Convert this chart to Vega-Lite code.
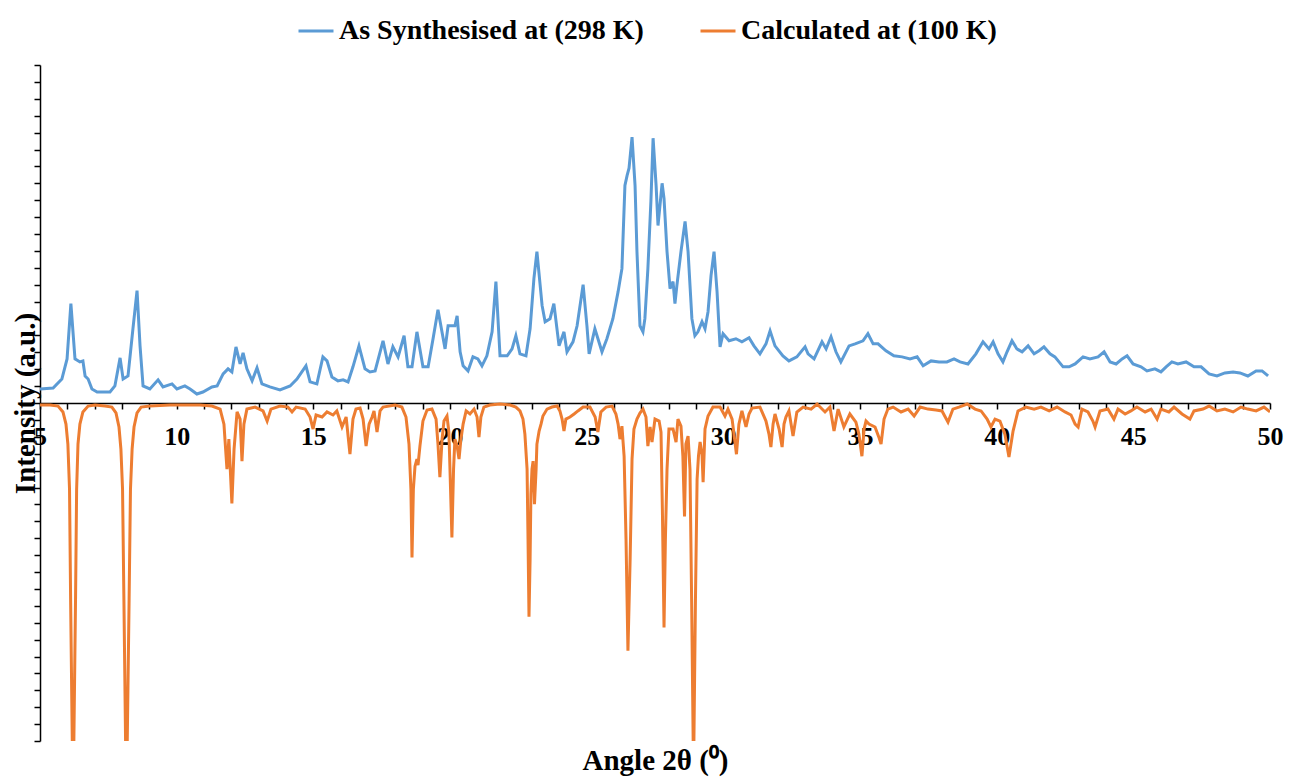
{
  "$schema": "https://vega.github.io/schema/vega-lite/v6.json",
  "autosize": {"type": "none"},
  "padding": {"left": 40, "top": 65, "right": 22, "bottom": 37},
  "width": 1230,
  "height": 676,
  "background": "white",
  "config": {
    "view": {"stroke": null},
    "font": "Liberation Serif",
    "axis": {
      "domainColor": "black", "domainWidth": 1.5, "tickColor": "black", "tickWidth": 1.5, "tickSize": 6,
      "grid": false, "labelFont": "Liberation Serif", "labelFontWeight": "bold", "labelColor": "black",
      "titleFont": "Liberation Serif", "titleFontWeight": "bold", "titleColor": "black"
    },
    "legend": {"labelFont": "Liberation Serif", "labelFontWeight": "bold", "labelColor": "black"}
  },
  "datasets": {
    "blue": [
      {"x":5.00,"y":0.83},{"x":5.48,"y":0.89},{"x":5.80,"y":1.42},{"x":5.99,"y":2.61},{"x":6.13,"y":5.88},{"x":6.28,"y":2.61},{"x":6.46,"y":2.43},{"x":6.57,"y":2.49},{"x":6.65,"y":1.60},{"x":6.76,"y":1.42},{"x":6.90,"y":0.83},{"x":7.09,"y":0.65},{"x":7.56,"y":0.65},{"x":7.74,"y":1.01},{"x":7.93,"y":2.67},{"x":8.04,"y":1.42},{"x":8.22,"y":1.60},{"x":8.40,"y":4.39},{"x":8.55,"y":6.65},{"x":8.66,"y":3.38},{"x":8.77,"y":1.01},{"x":9.02,"y":0.83},{"x":9.32,"y":1.37},{"x":9.50,"y":0.95},{"x":9.83,"y":1.13},{"x":10.01,"y":0.83},{"x":10.30,"y":1.01},{"x":10.49,"y":0.83},{"x":10.74,"y":0.53},{"x":10.96,"y":0.65},{"x":11.29,"y":0.95},{"x":11.48,"y":1.01},{"x":11.70,"y":1.72},{"x":11.88,"y":2.02},{"x":12.02,"y":1.84},{"x":12.17,"y":3.32},{"x":12.32,"y":2.31},{"x":12.43,"y":2.97},{"x":12.57,"y":2.02},{"x":12.76,"y":1.31},{"x":12.94,"y":2.08},{"x":13.12,"y":1.13},{"x":13.41,"y":0.95},{"x":13.78,"y":0.77},{"x":14.15,"y":1.01},{"x":14.40,"y":1.42},{"x":14.73,"y":2.20},{"x":14.88,"y":1.25},{"x":15.13,"y":1.13},{"x":15.35,"y":2.73},{"x":15.50,"y":2.49},{"x":15.68,"y":1.54},{"x":15.90,"y":1.31},{"x":16.09,"y":1.37},{"x":16.27,"y":1.25},{"x":16.45,"y":2.14},{"x":16.67,"y":3.38},{"x":16.89,"y":2.02},{"x":17.07,"y":1.84},{"x":17.26,"y":1.90},{"x":17.55,"y":3.68},{"x":17.73,"y":2.31},{"x":17.91,"y":3.32},{"x":18.10,"y":2.73},{"x":18.32,"y":3.98},{"x":18.46,"y":2.14},{"x":18.61,"y":2.14},{"x":18.79,"y":4.21},{"x":19.01,"y":2.14},{"x":19.20,"y":2.14},{"x":19.38,"y":3.80},{"x":19.56,"y":5.52},{"x":19.82,"y":3.20},{"x":19.93,"y":4.57},{"x":20.18,"y":4.57},{"x":20.26,"y":5.16},{"x":20.37,"y":3.03},{"x":20.48,"y":2.20},{"x":20.66,"y":1.90},{"x":20.84,"y":2.73},{"x":21.02,"y":2.61},{"x":21.17,"y":2.20},{"x":21.35,"y":2.79},{"x":21.54,"y":4.21},{"x":21.68,"y":7.18},{"x":21.83,"y":2.79},{"x":22.09,"y":2.79},{"x":22.27,"y":3.20},{"x":22.41,"y":3.98},{"x":22.56,"y":2.91},{"x":22.78,"y":2.79},{"x":22.93,"y":4.39},{"x":23.07,"y":7.36},{"x":23.18,"y":8.96},{"x":23.37,"y":5.76},{"x":23.48,"y":4.81},{"x":23.66,"y":4.99},{"x":23.80,"y":5.88},{"x":23.99,"y":3.38},{"x":24.17,"y":4.21},{"x":24.28,"y":3.03},{"x":24.50,"y":3.62},{"x":24.65,"y":4.57},{"x":24.87,"y":7.00},{"x":25.01,"y":4.57},{"x":25.09,"y":2.91},{"x":25.30,"y":4.39},{"x":25.56,"y":3.03},{"x":25.74,"y":3.80},{"x":25.96,"y":4.99},{"x":26.15,"y":6.59},{"x":26.29,"y":7.95},{"x":26.40,"y":12.88},{"x":26.48,"y":13.47},{"x":26.55,"y":13.89},{"x":26.66,"y":15.73},{"x":26.77,"y":12.88},{"x":26.84,"y":8.96},{"x":26.95,"y":4.57},{"x":27.06,"y":4.21},{"x":27.13,"y":4.99},{"x":27.24,"y":7.95},{"x":27.35,"y":11.93},{"x":27.43,"y":15.67},{"x":27.54,"y":12.88},{"x":27.61,"y":10.50},{"x":27.76,"y":13.00},{"x":27.83,"y":12.11},{"x":27.94,"y":8.96},{"x":28.05,"y":6.77},{"x":28.16,"y":7.18},{"x":28.23,"y":5.88},{"x":28.30,"y":6.94},{"x":28.45,"y":8.96},{"x":28.60,"y":10.74},{"x":28.71,"y":8.96},{"x":28.85,"y":4.99},{"x":28.96,"y":3.98},{"x":29.07,"y":4.21},{"x":29.22,"y":4.81},{"x":29.33,"y":4.39},{"x":29.44,"y":5.40},{"x":29.55,"y":7.54},{"x":29.66,"y":8.96},{"x":29.77,"y":6.59},{"x":29.88,"y":3.32},{"x":29.99,"y":4.10},{"x":30.21,"y":3.68},{"x":30.46,"y":3.80},{"x":30.68,"y":3.62},{"x":30.94,"y":3.86},{"x":31.12,"y":3.38},{"x":31.34,"y":2.91},{"x":31.56,"y":3.50},{"x":31.71,"y":4.27},{"x":31.89,"y":3.38},{"x":32.18,"y":2.79},{"x":32.40,"y":2.49},{"x":32.69,"y":2.73},{"x":32.99,"y":3.32},{"x":33.10,"y":2.91},{"x":33.32,"y":2.61},{"x":33.61,"y":3.62},{"x":33.76,"y":3.20},{"x":33.94,"y":3.92},{"x":34.12,"y":3.03},{"x":34.30,"y":2.43},{"x":34.60,"y":3.38},{"x":34.82,"y":3.50},{"x":35.11,"y":3.68},{"x":35.29,"y":4.10},{"x":35.48,"y":3.50},{"x":35.66,"y":3.50},{"x":35.95,"y":3.09},{"x":36.24,"y":2.79},{"x":36.54,"y":2.73},{"x":36.83,"y":2.61},{"x":37.09,"y":2.73},{"x":37.31,"y":2.20},{"x":37.60,"y":2.49},{"x":37.89,"y":2.43},{"x":38.18,"y":2.43},{"x":38.44,"y":2.61},{"x":38.66,"y":2.43},{"x":38.95,"y":2.31},{"x":39.24,"y":2.91},{"x":39.50,"y":3.62},{"x":39.72,"y":3.20},{"x":39.87,"y":3.62},{"x":40.05,"y":2.91},{"x":40.23,"y":2.43},{"x":40.38,"y":3.03},{"x":40.56,"y":3.68},{"x":40.74,"y":3.20},{"x":40.93,"y":3.03},{"x":41.15,"y":3.38},{"x":41.37,"y":2.91},{"x":41.55,"y":3.09},{"x":41.73,"y":3.32},{"x":41.95,"y":2.91},{"x":42.13,"y":2.73},{"x":42.43,"y":2.14},{"x":42.65,"y":2.14},{"x":42.87,"y":2.31},{"x":43.16,"y":2.73},{"x":43.41,"y":2.61},{"x":43.71,"y":2.73},{"x":43.93,"y":3.03},{"x":44.15,"y":2.43},{"x":44.37,"y":2.31},{"x":44.59,"y":2.61},{"x":44.77,"y":2.79},{"x":44.99,"y":2.31},{"x":45.28,"y":2.14},{"x":45.50,"y":1.90},{"x":45.79,"y":2.02},{"x":46.01,"y":1.84},{"x":46.20,"y":2.14},{"x":46.41,"y":2.43},{"x":46.63,"y":2.31},{"x":46.93,"y":2.43},{"x":47.22,"y":2.14},{"x":47.48,"y":2.14},{"x":47.77,"y":1.72},{"x":48.06,"y":1.60},{"x":48.35,"y":1.78},{"x":48.65,"y":1.84},{"x":48.90,"y":1.78},{"x":49.19,"y":1.60},{"x":49.49,"y":1.90},{"x":49.71,"y":1.90},{"x":49.93,"y":1.60}
    ],
    "orange": [
      {"x":5.00,"y":-0.12},{"x":5.37,"y":-0.12},{"x":5.66,"y":-0.18},{"x":5.84,"y":-0.53},{"x":5.95,"y":-1.25},{"x":6.02,"y":-2.43},{"x":6.08,"y":-5.10},{"x":6.12,"y":-11.63},{"x":6.21,"y":-24},{"x":6.30,"y":-11.63},{"x":6.34,"y":-5.10},{"x":6.39,"y":-2.43},{"x":6.46,"y":-1.25},{"x":6.57,"y":-0.53},{"x":6.76,"y":-0.18},{"x":7.01,"y":-0.12},{"x":7.38,"y":-0.18},{"x":7.63,"y":-0.24},{"x":7.78,"y":-0.59},{"x":7.89,"y":-1.42},{"x":7.96,"y":-2.73},{"x":8.02,"y":-5.10},{"x":8.07,"y":-11.63},{"x":8.16,"y":-24},{"x":8.26,"y":-11.63},{"x":8.31,"y":-5.10},{"x":8.37,"y":-2.73},{"x":8.44,"y":-1.42},{"x":8.55,"y":-0.59},{"x":8.70,"y":-0.24},{"x":9.02,"y":-0.18},{"x":9.76,"y":-0.12},{"x":10.85,"y":-0.12},{"x":11.29,"y":-0.18},{"x":11.59,"y":-0.36},{"x":11.73,"y":-1.25},{"x":11.84,"y":-3.92},{"x":11.91,"y":-2.14},{"x":12.02,"y":-5.94},{"x":12.10,"y":-2.73},{"x":12.21,"y":-0.53},{"x":12.32,"y":-0.95},{"x":12.39,"y":-3.44},{"x":12.46,"y":-1.25},{"x":12.57,"y":-0.36},{"x":12.87,"y":-0.24},{"x":13.16,"y":-0.47},{"x":13.31,"y":-1.07},{"x":13.45,"y":-0.36},{"x":13.78,"y":-0.18},{"x":14.07,"y":-0.24},{"x":14.22,"y":-0.53},{"x":14.37,"y":-0.24},{"x":14.70,"y":-0.36},{"x":14.88,"y":-0.83},{"x":14.99,"y":-1.54},{"x":15.10,"y":-0.71},{"x":15.32,"y":-0.83},{"x":15.50,"y":-0.53},{"x":15.72,"y":-0.71},{"x":15.86,"y":-0.47},{"x":16.05,"y":-1.42},{"x":16.20,"y":-0.83},{"x":16.34,"y":-3.03},{"x":16.45,"y":-0.95},{"x":16.56,"y":-0.36},{"x":16.71,"y":-0.30},{"x":16.82,"y":-0.95},{"x":16.93,"y":-2.55},{"x":17.04,"y":-1.25},{"x":17.15,"y":-0.83},{"x":17.22,"y":-0.47},{"x":17.33,"y":-1.72},{"x":17.44,"y":-0.47},{"x":17.55,"y":-0.24},{"x":17.99,"y":-0.12},{"x":18.24,"y":-0.24},{"x":18.39,"y":-0.83},{"x":18.50,"y":-2.43},{"x":18.57,"y":-5.10},{"x":18.61,"y":-9.14},{"x":18.66,"y":-5.10},{"x":18.72,"y":-3.74},{"x":18.79,"y":-3.32},{"x":18.83,"y":-3.68},{"x":18.90,"y":-2.55},{"x":19.01,"y":-1.07},{"x":19.16,"y":-0.42},{"x":19.34,"y":-0.36},{"x":19.49,"y":-0.95},{"x":19.56,"y":-2.43},{"x":19.63,"y":-4.39},{"x":19.71,"y":-2.14},{"x":19.78,"y":-1.07},{"x":19.89,"y":-0.77},{"x":19.96,"y":-1.72},{"x":20.02,"y":-5.10},{"x":20.07,"y":-7.95},{"x":20.13,"y":-3.92},{"x":20.18,"y":-2.14},{"x":20.26,"y":-2.55},{"x":20.33,"y":-3.32},{"x":20.40,"y":-2.14},{"x":20.48,"y":-1.25},{"x":20.59,"y":-0.47},{"x":20.73,"y":-0.65},{"x":20.88,"y":-0.36},{"x":20.99,"y":-0.83},{"x":21.06,"y":-2.02},{"x":21.13,"y":-0.83},{"x":21.24,"y":-0.24},{"x":21.46,"y":-0.12},{"x":21.83,"y":-0.06},{"x":22.20,"y":-0.12},{"x":22.41,"y":-0.24},{"x":22.56,"y":-0.47},{"x":22.67,"y":-0.95},{"x":22.74,"y":-1.84},{"x":22.82,"y":-3.92},{"x":22.85,"y":-7.48},{"x":22.89,"y":-12.64},{"x":22.93,"y":-9.26},{"x":22.96,"y":-5.40},{"x":23.00,"y":-3.92},{"x":23.04,"y":-3.44},{"x":23.09,"y":-5.99},{"x":23.15,"y":-3.92},{"x":23.18,"y":-2.43},{"x":23.26,"y":-1.66},{"x":23.33,"y":-1.25},{"x":23.40,"y":-0.77},{"x":23.55,"y":-0.36},{"x":23.73,"y":-0.24},{"x":23.92,"y":-0.18},{"x":24.02,"y":-0.47},{"x":24.10,"y":-0.95},{"x":24.17,"y":-1.66},{"x":24.24,"y":-0.95},{"x":24.39,"y":-0.83},{"x":24.54,"y":-0.65},{"x":24.68,"y":-0.47},{"x":24.87,"y":-0.24},{"x":25.12,"y":-0.24},{"x":25.31,"y":-0.83},{"x":25.41,"y":-1.72},{"x":25.52,"y":-0.53},{"x":25.71,"y":-0.24},{"x":25.93,"y":-0.18},{"x":26.07,"y":-0.65},{"x":26.15,"y":-1.25},{"x":26.22,"y":-2.14},{"x":26.29,"y":-1.37},{"x":26.37,"y":-3.15},{"x":26.44,"y":-8.07},{"x":26.51,"y":-14.66},{"x":26.59,"y":-9.26},{"x":26.66,"y":-3.32},{"x":26.73,"y":-1.54},{"x":26.84,"y":-0.95},{"x":26.95,"y":-0.59},{"x":27.06,"y":-0.36},{"x":27.17,"y":-0.83},{"x":27.24,"y":-2.55},{"x":27.32,"y":-1.42},{"x":27.39,"y":-2.31},{"x":27.50,"y":-0.95},{"x":27.65,"y":-1.07},{"x":27.72,"y":-1.72},{"x":27.77,"y":-6.29},{"x":27.83,"y":-13.29},{"x":27.88,"y":-8.07},{"x":27.94,"y":-3.92},{"x":28.01,"y":-1.54},{"x":28.16,"y":-1.54},{"x":28.27,"y":-2.31},{"x":28.34,"y":-0.95},{"x":28.45,"y":-1.37},{"x":28.52,"y":-3.15},{"x":28.58,"y":-6.71},{"x":28.63,"y":-2.43},{"x":28.71,"y":-1.96},{"x":28.78,"y":-3.92},{"x":28.84,"y":-11.63},{"x":28.91,"y":-22},{"x":28.98,"y":-11.63},{"x":29.04,"y":-4.51},{"x":29.09,"y":-3.15},{"x":29.15,"y":-2.31},{"x":29.22,"y":-3.03},{"x":29.26,"y":-4.69},{"x":29.33,"y":-1.54},{"x":29.44,"y":-0.77},{"x":29.62,"y":-0.24},{"x":29.88,"y":-0.24},{"x":30.06,"y":-0.77},{"x":30.17,"y":-0.36},{"x":30.32,"y":-0.95},{"x":30.39,"y":-1.84},{"x":30.48,"y":-3.03},{"x":30.57,"y":-1.25},{"x":30.68,"y":-0.47},{"x":30.83,"y":-1.42},{"x":30.94,"y":-0.65},{"x":31.05,"y":-0.30},{"x":31.34,"y":-0.24},{"x":31.56,"y":-1.07},{"x":31.67,"y":-1.84},{"x":31.74,"y":-2.61},{"x":31.82,"y":-1.25},{"x":31.89,"y":-0.65},{"x":32.04,"y":-1.54},{"x":32.15,"y":-2.61},{"x":32.22,"y":-1.25},{"x":32.29,"y":-0.83},{"x":32.40,"y":-0.47},{"x":32.55,"y":-1.96},{"x":32.69,"y":-0.53},{"x":32.92,"y":-0.24},{"x":33.21,"y":-0.36},{"x":33.43,"y":-0.06},{"x":33.72,"y":-0.53},{"x":33.90,"y":-0.24},{"x":34.05,"y":-1.66},{"x":34.20,"y":-0.36},{"x":34.41,"y":-1.42},{"x":34.63,"y":-0.65},{"x":34.85,"y":-1.13},{"x":34.96,"y":-1.84},{"x":35.07,"y":-3.15},{"x":35.15,"y":-1.54},{"x":35.22,"y":-1.07},{"x":35.33,"y":-1.25},{"x":35.55,"y":-1.42},{"x":35.69,"y":-2.02},{"x":35.77,"y":-2.43},{"x":35.88,"y":-0.95},{"x":36.02,"y":-0.36},{"x":36.21,"y":-0.24},{"x":36.50,"y":-0.53},{"x":36.76,"y":-0.36},{"x":36.98,"y":-0.77},{"x":37.20,"y":-0.24},{"x":37.49,"y":-0.36},{"x":37.78,"y":-0.42},{"x":38.00,"y":-0.47},{"x":38.22,"y":-1.13},{"x":38.40,"y":-0.36},{"x":38.62,"y":-0.24},{"x":38.92,"y":-0.06},{"x":39.21,"y":-0.36},{"x":39.43,"y":-0.47},{"x":39.65,"y":-0.95},{"x":39.79,"y":-1.42},{"x":39.94,"y":-0.95},{"x":40.12,"y":-1.07},{"x":40.30,"y":-1.84},{"x":40.45,"y":-3.20},{"x":40.60,"y":-1.66},{"x":40.78,"y":-0.47},{"x":41.07,"y":-0.24},{"x":41.37,"y":-0.36},{"x":41.62,"y":-0.24},{"x":41.92,"y":-0.47},{"x":42.21,"y":-0.24},{"x":42.50,"y":-0.53},{"x":42.72,"y":-0.71},{"x":42.87,"y":-1.25},{"x":42.98,"y":-1.42},{"x":43.12,"y":-0.36},{"x":43.34,"y":-0.53},{"x":43.52,"y":-1.07},{"x":43.60,"y":-1.42},{"x":43.78,"y":-0.47},{"x":44.07,"y":-0.36},{"x":44.29,"y":-0.95},{"x":44.44,"y":-0.36},{"x":44.70,"y":-0.65},{"x":44.91,"y":-0.47},{"x":45.13,"y":-0.24},{"x":45.43,"y":-0.53},{"x":45.65,"y":-0.36},{"x":45.87,"y":-0.95},{"x":46.01,"y":-0.36},{"x":46.30,"y":-0.53},{"x":46.49,"y":-0.24},{"x":46.78,"y":-0.65},{"x":47.07,"y":-0.95},{"x":47.22,"y":-0.47},{"x":47.55,"y":-0.36},{"x":47.77,"y":-0.18},{"x":48.06,"y":-0.47},{"x":48.35,"y":-0.36},{"x":48.65,"y":-0.53},{"x":48.94,"y":-0.24},{"x":49.19,"y":-0.36},{"x":49.49,"y":-0.47},{"x":49.78,"y":-0.24},{"x":50.00,"y":-0.53}
    ]
  },
  "encoding": {
    "x": {
      "field": "x", "type": "quantitative",
      "scale": {"domain": [5, 50], "nice": false, "zero": false},
      "axis": {
        "orient": "bottom", "offset": -338,
        "values": [5,6,7,8,9,10,11,12,13,14,15,16,17,18,19,20,21,22,23,24,25,26,27,28,29,30,31,32,33,34,35,36,37,38,39,40,41,42,43,44,45,46,47,48,49,50],
        "labelExpr": "datum.value % 5 == 0 ? datum.label : ''",
        "labelFontSize": 26, "labelPadding": 14, "labelOverlap": false, "labelFlush": false, "labelBound": false,
        "title": "Angle 2θ (⁰)", "titleFontSize": 29, "titleX": 615, "titleY": 357, "titleBaseline": "middle", "titleAlign": "center"
      }
    },
    "y": {
      "field": "y", "type": "quantitative",
      "scale": {"domain": [-20, 20], "nice": false, "zero": false},
      "axis": {
        "values": [-20,-19,-18,-17,-16,-15,-14,-13,-12,-11,-10,-9,-8,-7,-6,-5,-4,-3,-2,-1,0,1,2,3,4,5,6,7,8,9,10,11,12,13,14,15,16,17,18,19,20],
        "labels": false,
        "title": "Intensity (a.u.)", "titleFontSize": 29, "titleAngle": 270, "titleX": -15, "titleY": 338, "titleBaseline": "middle", "titleAlign": "center"
      }
    }
  },
  "layer": [
    {
      "data": {"name": "orange"},
      "mark": {"type": "line", "strokeWidth": 3, "clip": true},
      "encoding": {
        "color": {
          "datum": "Calculated at (100 K)",
          "scale": {"domain": ["As Synthesised at (298 K)", "Calculated at (100 K)"], "range": ["#5B9BD5", "#ED7D31"]},
          "legend": {
            "orient": "none", "legendX": 257, "legendY": -53, "direction": "horizontal", "title": null,
            "symbolType": "stroke", "symbolSize": 1225, "symbolStrokeWidth": 3, "labelFontSize": 28, "labelOffset": 4,
            "labelLimit": 0, "columnPadding": 50, "padding": 0
          }
        }
      }
    },
    {
      "data": {"name": "blue"},
      "mark": {"type": "line", "strokeWidth": 3, "clip": true},
      "encoding": {"color": {"datum": "As Synthesised at (298 K)"}}
    }
  ]
}
